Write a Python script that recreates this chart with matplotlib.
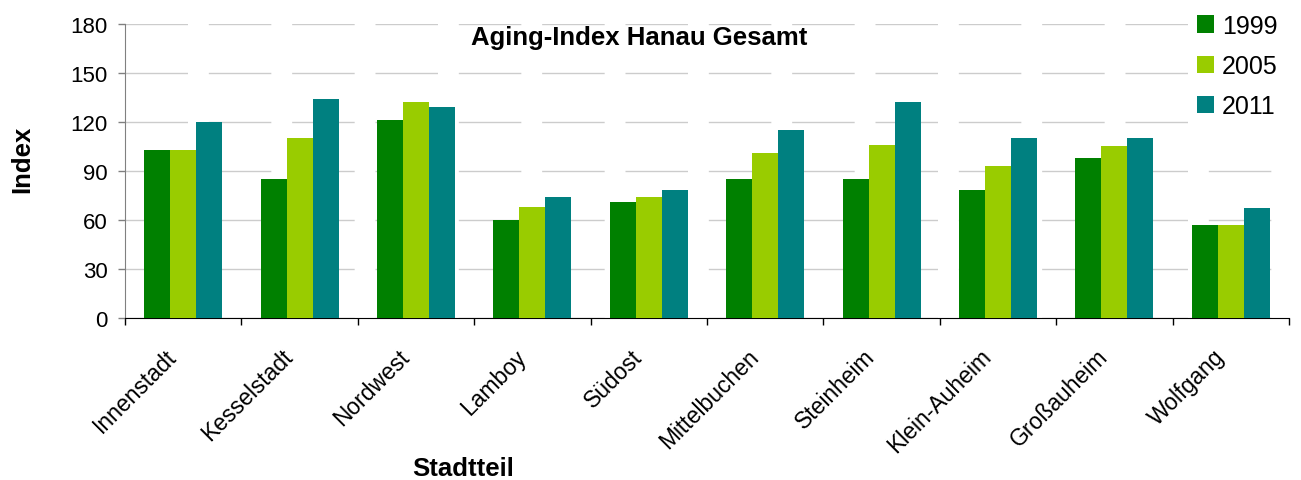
import matplotlib
matplotlib.use("Agg")
import matplotlib.pyplot as plt
import matplotlib.transforms as mtransforms
import numpy as np
from matplotlib.patches import Patch

plt.rcParams['font.family'] = ['Liberation Sans', 'DejaVu Sans']

categories = ["Innenstadt", "Kesselstadt", "Nordwest", "Lamboy", "Südost",
              "Mittelbuchen", "Steinheim", "Klein-Auheim", "Großauheim", "Wolfgang"]
years = ["1999", "2005", "2011"]
v1999 = [103, 85, 121, 60, 71, 85, 85, 78, 98, 57]
v2005 = [103, 110, 132, 68, 74, 101, 106, 93, 105, 57]
v2011 = [120, 134, 129, 74, 78, 115, 132, 110, 110, 67]
colors = ["#008000", "#99CC00", "#008080"]
yticks = [0, 30, 60, 90, 120, 150, 180]

W, H = 1301, 481
fig = plt.figure(figsize=(W / 100, H / 100), dpi=100)
ax = fig.add_axes([125 / W, 1 - 319 / H, (1289 - 125) / W, (319 - 24.7) / H])

x = np.arange(len(categories))
bw = 0.223
for i, (vals, c) in enumerate(zip([v1999, v2005, v2011], colors)):
    ax.bar(x + (i - 1) * bw, vals, width=bw, color=c, zorder=3, linewidth=0)

ax.set_xlim(-0.5, len(categories) - 0.5)
ax.set_ylim(0, 180)
ax.set_yticks(yticks)
ax.set_yticklabels([str(v) for v in yticks], fontsize=16)
ax.yaxis.grid(True, color="#cccccc", linewidth=1.0, linestyle=(0, (45, 15)), zorder=0)

ax.set_xticks(np.arange(-0.5, len(categories), 1.0))
ax.set_xticklabels([])
ax.set_xticks(x, minor=True)
ax.set_xticklabels(categories, minor=True, rotation=45, ha='right', va='center',
                   rotation_mode='anchor', fontsize=16.5)
ax.tick_params(axis='x', which='minor', length=0, pad=25)
ax.tick_params(axis='x', which='major', length=5, width=1, color='black', direction='out')
ax.tick_params(axis='y', length=5, width=1, color='#808080', direction='out', pad=7.5)

offset = mtransforms.ScaledTranslation(-0.10, 0, fig.dpi_scale_trans)
for lab in ax.get_xticklabels(minor=True):
    lab.set_transform(lab.get_transform() + offset)

for s in ['top', 'right']:
    ax.spines[s].set_visible(False)
ax.spines['left'].set_color('#808080')
ax.spines['bottom'].set_color('black')

fig.text(639 / W, 1 - 45 / H, "Aging-Index Hanau Gesamt", fontsize=18.5, fontweight='bold',
         ha='center', va='baseline')
fig.text(463 / W, 1 - 476.5 / H, "Stadtteil", fontsize=18.5, fontweight='bold',
         ha='center', va='baseline')
fig.text(22 / W, 1 - 159 / H, "Index", fontsize=18.5, fontweight='bold',
         ha='center', va='center', rotation=90)

handles = [Patch(facecolor=c, edgecolor='none') for c in colors]
leg = fig.legend(handles, years, loc='upper left', bbox_to_anchor=(1188 / W, 1 - 6 / H),
                 frameon=True, facecolor='white', edgecolor='none', framealpha=1,
                 fancybox=False, fontsize=18, handlelength=0.7, handleheight=0.7,
                 handletextpad=0.3, labelspacing=0.65, borderpad=0.35, borderaxespad=0)

fig.savefig("out.png", dpi=100)
